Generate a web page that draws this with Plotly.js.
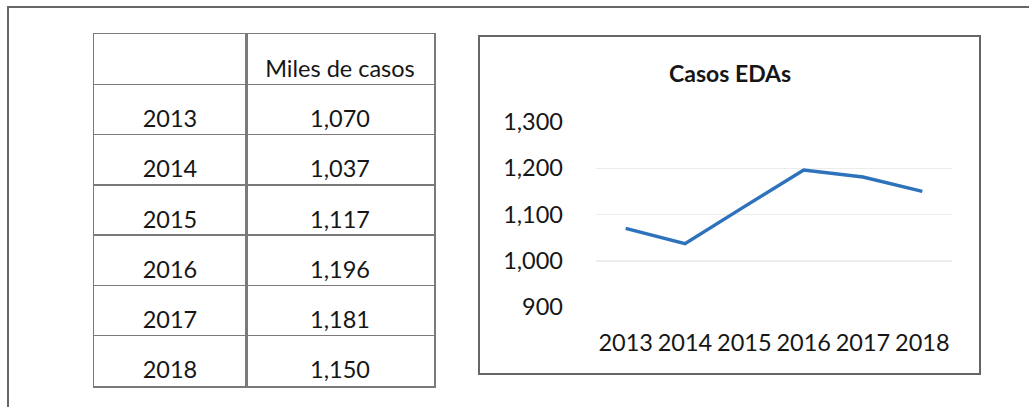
<!DOCTYPE html>
<html>
<head>
<meta charset="utf-8">
<script src="https://cdn.plot.ly/plotly-3.0.1.min.js"></script>
<style>
html,body{margin:0;padding:0;background:#fff;}
#chart{width:1029px;height:407px;}
</style>
</head>
<body>
<div id="chart"></div>
<script>
const years = ["2013","2014","2015","2016","2017","2018"];
const cases = [1070, 1037, 1117, 1196, 1181, 1150];
const tableColumns = ["", "Miles de casos"];
const chartTitle = "Casos EDAs";
const yTicks = [900, 1000, 1100, 1200, 1300];

const W = 1029, H = 407;
const px = x => x / W;
const py = y => 1 - y / H;
const FONT = "Lato, 'Open Sans', sans-serif";
const TXT = "#161616";
const GRID = "#7a7a7a";

const fmt = v => v.toLocaleString("en-US");

// table rows: header row + one row per year
const rowKeys = ["header"].concat(years);
const col1Text = [tableColumns[0]].concat(years);
const col2Text = [tableColumns[1]].concat(cases.map(fmt));

const tableFont = {family: FONT, size: 23.5, color: TXT};

const col1Trace = {
  type: "scatter", mode: "text",
  x: rowKeys.map(() => "c1"), y: rowKeys,
  text: col1Text, textposition: "bottom center", textfont: tableFont,
  xaxis: "x2", yaxis: "y2", hoverinfo: "skip", cliponaxis: false
};
const col2Trace = {
  type: "scatter", mode: "text",
  x: rowKeys.map(() => "c2"), y: rowKeys,
  text: col2Text, textposition: "bottom center", textfont: tableFont,
  xaxis: "x3", yaxis: "y2", hoverinfo: "skip", cliponaxis: false
};

const lineTrace = {
  type: "scatter",
  mode: "lines",
  x: years,
  y: cases,
  line: {color: "#2E72BC", width: 3.5},
  hoverinfo: "skip"
};

const colAxis = (d0, d1) => ({
  domain: [px(d0), px(d1)],
  type: "category",
  range: [-0.5, 0.5],
  anchor: "y2",
  showgrid: false, zeroline: false,
  showline: true, mirror: true, linecolor: GRID, linewidth: 1.5,
  showticklabels: false, ticks: "",
  fixedrange: true
});

const layout = {
  width: W, height: H,
  margin: {l: 0, r: 0, t: 0, b: 0},
  paper_bgcolor: "#fff",
  plot_bgcolor: "rgba(0,0,0,0)",
  showlegend: false,
  font: {family: FONT, color: TXT},
  xaxis: {
    domain: [px(596), px(952)],
    type: "category",
    range: [-0.5, 5.5],
    showgrid: false, zeroline: false, showline: false,
    ticks: "",
    tickfont: {family: FONT, size: 23.5, color: TXT},
    ticklabelstandoff: 19,
    fixedrange: true
  },
  yaxis: {
    domain: [py(307), py(122)],
    range: [900, 1300],
    tickvals: yTicks,
    ticktext: yTicks.map(fmt),
    showgrid: true, gridcolor: "#ececec", gridwidth: 1.5,
    zeroline: false, showline: false,
    ticks: "",
    tickfont: {family: FONT, size: 23.5, color: TXT},
    ticklabelstandoff: 32,
    fixedrange: true
  },
  xaxis2: colAxis(94, 246),
  xaxis3: colAxis(246, 434),
  yaxis2: {
    domain: [py(386), py(34)],
    type: "category",
    categoryarray: rowKeys,
    range: [rowKeys.length - 0.5, -0.5],
    anchor: "x2",
    tickson: "boundaries",
    showgrid: true, gridcolor: GRID, gridwidth: 1.5,
    zeroline: false,
    showline: true, mirror: "all", linecolor: GRID, linewidth: 1.5,
    showticklabels: false, ticks: "",
    fixedrange: true
  },
  shapes: [
    {type: "rect", xref: "paper", yref: "paper", x0: px(8), x1: px(1060), y0: py(430), y1: py(7),
     line: {color: "#666", width: 2}, fillcolor: "rgba(0,0,0,0)", layer: "below"},
    {type: "rect", xref: "paper", yref: "paper", x0: px(479), x1: px(980), y0: py(374), y1: py(36),
     line: {color: "#666", width: 2}, fillcolor: "rgba(0,0,0,0)", layer: "below"}
  ],
  annotations: [
    {text: "<b>" + chartTitle + "</b>", xref: "paper", yref: "paper", x: px(730), y: py(73),
     xanchor: "center", yanchor: "middle", showarrow: false,
     font: {family: FONT, size: 23, color: TXT}}
  ]
};

Plotly.newPlot("chart", [col1Trace, col2Trace, lineTrace], layout, {displayModeBar: false, staticPlot: true});
</script>
</body>
</html>
